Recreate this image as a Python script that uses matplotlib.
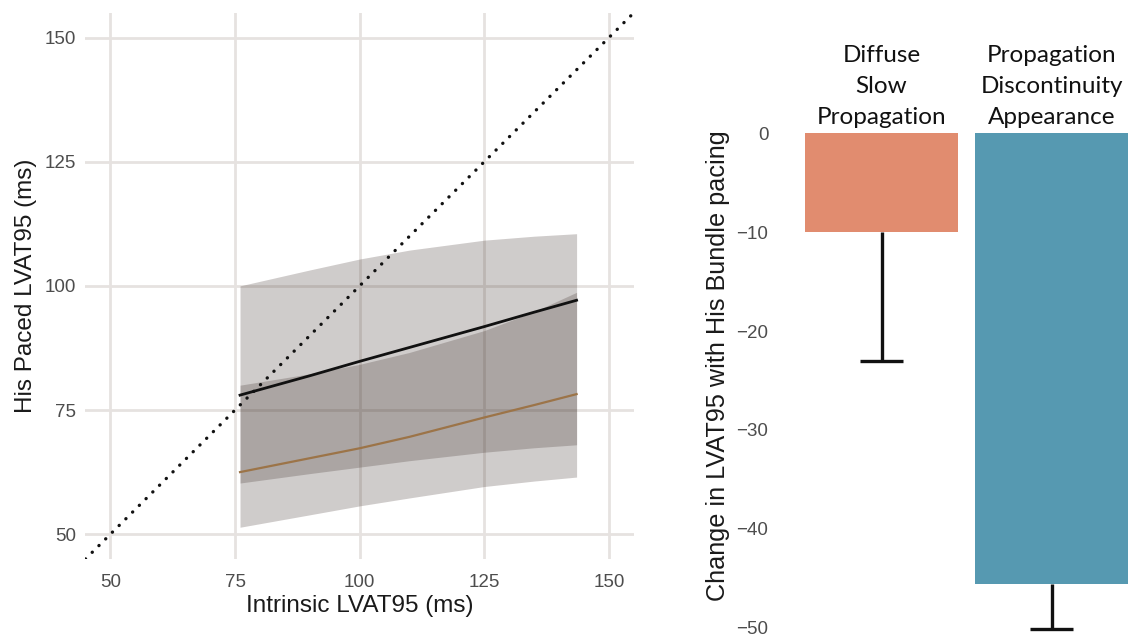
import numpy as np
import matplotlib
matplotlib.use("Agg")
import matplotlib.pyplot as plt

# ---------------- data ----------------
# Left panel: fitted curves and confidence bands
x_fit = [76, 90, 100, 110, 125, 135, 143.5]
light_upper = [100.0, 103.2, 105.4, 107.2, 109.2, 110.0, 110.5]
light_lower = [51.4, 53.9, 55.7, 57.3, 59.6, 60.7, 61.5]
dark_upper = [80.0, 82.3, 84.2, 86.6, 91.0, 94.8, 98.7]
dark_lower = [60.3, 62.2, 63.5, 64.8, 66.5, 67.4, 68.0]
black_line = [78.0, 81.9, 84.8, 87.6, 91.8, 94.7, 97.1]
brown_line = [62.5, 65.3, 67.3, 69.6, 73.5, 76.0, 78.2]
identity = [45, 155]

x_ticks = [50, 75, 100, 125, 150]
y_ticks = [50, 75, 100, 125, 150]

# Right panel: bar chart
categories = ["Diffuse\nSlow\nPropagation", "Propagation\nDiscontinuity\nAppearance"]
bar_values = [-10.0, -45.6]
err_lower = [13.0, 4.5]
bar_colors = ["#E18C6F", "#5699B1"]
bar_ticks = [0, -10, -20, -30, -40, -50]

# ---------------- figure ----------------
plt.rcParams['font.family'] = ['Liberation Sans', 'DejaVu Sans']
fig = plt.figure(figsize=(11.32, 6.38), dpi=100)

# ---- left panel ----
ax = fig.add_axes([0.0755, 0.1238, 0.4845, 0.8563])
ax.set_xlim(45, 155)
ax.set_ylim(45, 155)
ax.set_xticks(x_ticks)
ax.set_yticks(y_ticks)
ax.grid(True, color="#e6e2e0", linewidth=2.0)
ax.set_axisbelow(True)
for s in ax.spines.values():
    s.set_visible(False)
ax.tick_params(axis="y", length=0, labelsize=13.5, labelcolor="#4d4d4d", pad=7)
ax.tick_params(axis="x", length=0, labelsize=13.5, labelcolor="#4d4d4d", pad=11)

band_color = "#3a2a26"
ax.fill_between(x_fit, light_lower, light_upper, color=band_color, alpha=0.24, linewidth=0, zorder=2)
ax.fill_between(x_fit, dark_lower, dark_upper, color=band_color, alpha=0.24, linewidth=0, zorder=2)
ax.plot(x_fit, brown_line, color="#9c7448", linewidth=1.6, zorder=3)
ax.plot(x_fit, black_line, color="#111111", linewidth=2.0, zorder=3)
ax.plot(identity, identity, color="#111111", linewidth=2.4,
        linestyle=(0, (0.05, 2.8)), dash_capstyle="round", zorder=4, clip_on=True)

ax.set_xlabel("Intrinsic LVAT95 (ms)", fontsize=17.5, color="#1a1a1a", labelpad=3)
ax.set_ylabel("His Paced LVAT95 (ms)", fontsize=17.5, color="#1a1a1a", labelpad=5)

# ---- right panel ----
ax2 = fig.add_axes([0.6886, 0.0125, 0.3094, 0.7783])
pos = np.arange(len(categories))
ax2.bar(pos, bar_values, width=0.9, color=bar_colors, zorder=2)
err_end = np.array(bar_values) - np.array(err_lower)
cap_half = 0.126
ax2.vlines(pos, bar_values, err_end, color="#111111", linewidth=2.4, zorder=3, clip_on=False)
ax2.hlines(err_end, pos - cap_half, pos + cap_half, color="#111111", linewidth=2.4,
           zorder=3, clip_on=False)
ax2.set_xlim(-0.6, 1.46)
ax2.set_ylim(-50.25, 0)
ax2.set_yticks(bar_ticks)
ax2.set_xticks([])
for s in ax2.spines.values():
    s.set_visible(False)
ax2.tick_params(length=0, labelsize=13.5, labelcolor="#4d4d4d", pad=8)
for p, lab in zip(pos, categories):
    ax2.annotate(lab, xy=(p, 0), xytext=(0, 4), textcoords="offset points",
                 ha="center", va="bottom", fontsize=17.5, family=["Lato", "DejaVu Sans"],
                 color="#111111", linespacing=1.6, annotation_clip=False)

fig.text(718 / 1132, 1 - 366 / 638, "Change in LVAT95 with His Bundle pacing",
         rotation=90, ha="center", va="center", fontsize=18.2, color="#1a1a1a")

fig.savefig("out.png", dpi=100)
